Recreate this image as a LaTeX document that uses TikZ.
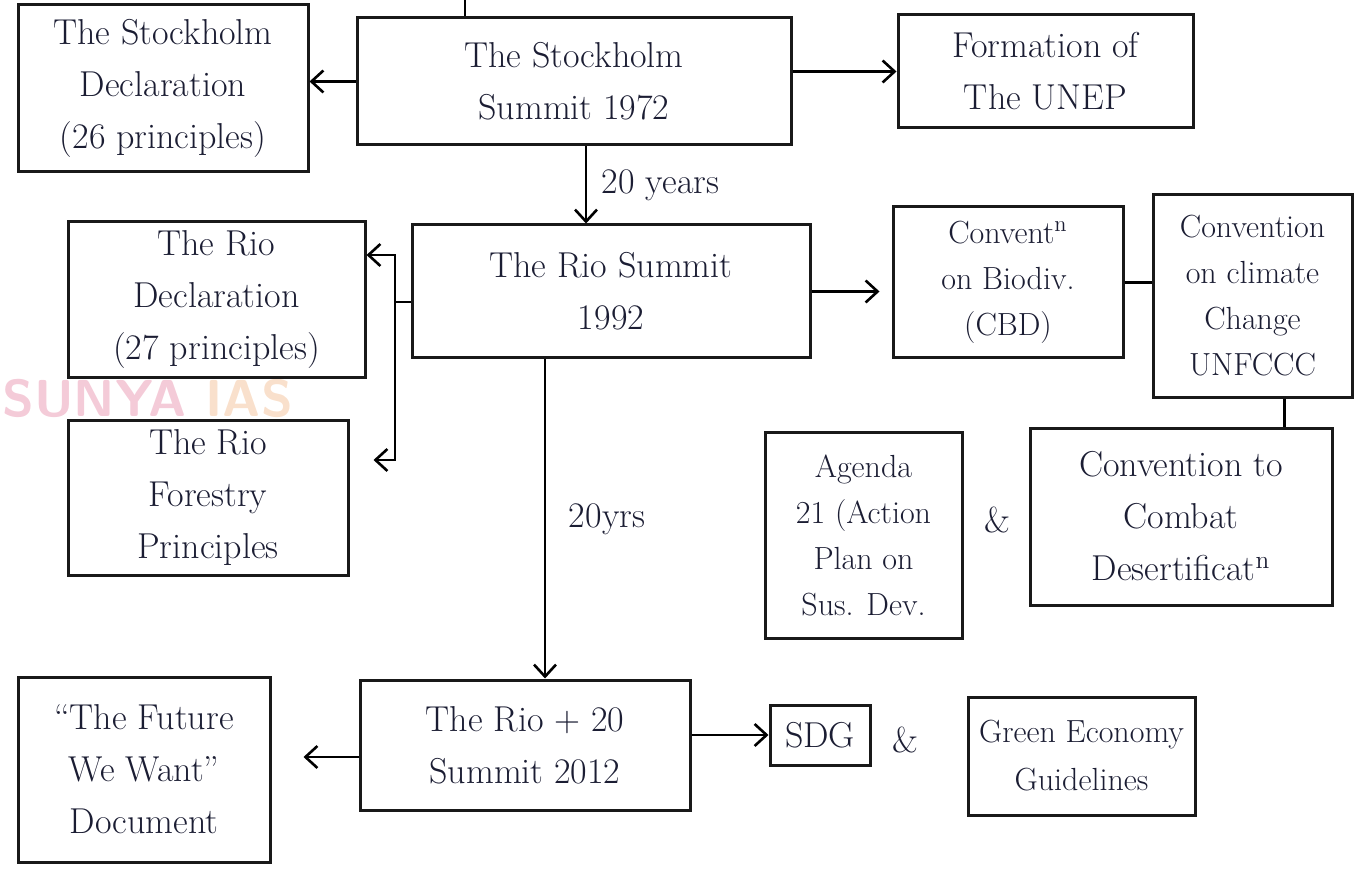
\documentclass[tikz,border=0pt]{standalone}
\usepackage{xcolor}
\usepackage{tikz}
\usetikzlibrary{positioning,arrows.meta,calc}
\definecolor{ink}{HTML}{1B1D33}
\definecolor{wmpink}{HTML}{F4CBD8}
\definecolor{wmpeach}{HTML}{F9E0CC}

\begin{document}
\begin{tikzpicture}[x=0.5pt,y=-0.5pt,
  every node/.style={font=\fontsize{18}{26}\selectfont,text=ink},
  box/.style={draw=black!90,line width=1.5pt,align=center,inner sep=3pt},
  tight/.style={font=\fontsize{16}{23}\selectfont},
  arr/.style={line width=1.3pt,-{Straight Barb[length=6pt,width=11pt]}},
  link/.style={line width=1.3pt}]
\useasboundingbox (0,0) rectangle (1366,877);
\node[anchor=west,inner sep=0,font=\sffamily\bfseries\fontsize{26}{26}\selectfont] (wm) at (2,398) {\textcolor{wmpink}{SUNYA} \textcolor{wmpeach}{IAS}};
\node[box,minimum width=145pt,minimum height=83.5pt] (sdecl) at (163,88.5) {The Stockholm\\Declaration\\(26 principles)};
\node[box,minimum width=217pt,minimum height=63.5pt] (ssum) at (574,81.5) {The Stockholm\\Summit 1972};
\node[box,minimum width=147.5pt,minimum height=56.5pt] (unep) at (1045.5,71.5) {Formation of\\The UNEP};
\node[box,minimum width=148.5pt,minimum height=78pt] (rdecl) at (216.5,300) {The Rio\\Declaration\\(27 principles)};
\node[box,minimum width=140pt,minimum height=77.5pt] (rfor) at (208,497.5) {The Rio\\Forestry\\Principles};
\node[box,minimum width=199pt,minimum height=66.5pt] (rsum) at (611,291.5) {The Rio Summit\\1992};
\node[box,tight,minimum width=115pt,minimum height=75.5pt] (cbd) at (1008,282.5) {Convent\textsuperscript{n}\\on Biodiv.\\(CBD)};
\node[box,tight,minimum width=99.5pt,minimum height=101pt] (unfccc) at (1252.5,296) {Convention\\on climate\\Change\\UNFCCC};
\node[box,tight,minimum width=98.5pt,minimum height=103pt] (agenda) at (863.5,535) {Agenda\\21 (Action\\Plan on\\Sus. Dev.};
\node (amp1) at (997,520) {\&};
\node[box,minimum width=151pt,minimum height=88.5pt] (desert) at (1181,516.5) {Convention to\\Combat\\Desertificat\textsuperscript{n}};
\node[box,minimum width=165pt,minimum height=65pt] (rio20) at (525,745) {The Rio + 20\\Summit 2012};
\node[box,minimum width=126pt,minimum height=92.5pt] (future) at (144,769.5) {``The Future\\We Want''\\Document};
\node[box,minimum width=50pt,minimum height=30pt] (sdg) at (820,735) {SDG};
\node (amp2) at (905,740) {\&};
\node[box,font=\fontsize{16}{24}\selectfont,inner sep=1pt,minimum width=113.5pt,minimum height=59pt] (green) at (1081.5,756) {Green Economy\\Guidelines};
\coordinate (feed) at (465,0);
\coordinate (fork) at (395,302);
\coordinate (drop) at ([xshift=10pt]rio20.north);
\draw[link] (feed) -- (feed |- ssum.north);
\draw[arr] (ssum.west) -- (ssum.west -| sdecl.east);
\draw[arr] (ssum.east |- unep.west) -- (unep.west);
\draw[arr] ([xshift=6pt]ssum.south) -- ([xshift=6pt]ssum.south |- rsum.north) node[midway,right=4pt] (yrs1) {20 years};
\draw[link] (rsum.west |- fork) -- (fork);
\draw[arr] (fork) |- (rdecl.east |- 0,255);
\draw[arr,shorten >=12pt] (fork) |- (rfor.east |- 0,460);
\draw[arr,shorten >=6pt] (rsum.east) -- (rsum.east -| cbd.west);
\draw[link] (cbd.east) -- (cbd.east -| unfccc.west);
\draw[link] ([xshift=16pt]unfccc.south) -- ([xshift=16pt]unfccc.south |- desert.north);
\draw[arr] (drop |- rsum.south) -- (drop) node[midway,right=8pt] (yrs2) {20yrs};
\draw[arr,shorten >=16pt] ([yshift=-6pt]rio20.west) -- ([yshift=-6pt]rio20.west -| future.east);
\draw[arr] (rio20.east |- sdg.west) -- (sdg.west);
\end{tikzpicture}
\end{document}
